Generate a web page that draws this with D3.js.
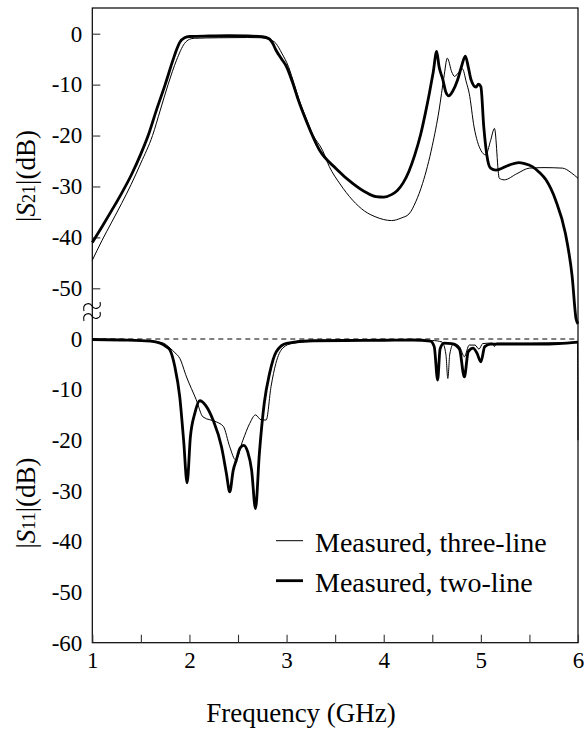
<!DOCTYPE html>
<html>
<head>
<meta charset="utf-8">
<script src="https://d3js.org/d3.v7.min.js"></script>
<style>
  body { margin: 0; background: #fff; }
  svg { display: block; }
  text { font-family: "Liberation Serif", "Times New Roman", serif; fill: #000; }
</style>
</head>
<body>
<div id="chartHere"></div>
<script>

// frequency ticks (GHz)
var freqTicks = [1, 1.5, 2, 2.5, 3, 3.5, 4, 4.5, 5, 5.5, 6];
var s21Ticks = [0, -10, -20, -30, -40, -50];
var s11Ticks = [0, -10, -20, -30, -40, -50, -60];

// |S21| measured, two-line  [GHz, dB]
var s21TwoLine = [
  [1.00,-41.0],[1.10,-37.9],[1.20,-34.7],[1.30,-31.4],[1.40,-27.8],[1.50,-23.6],
  [1.575,-20.0],[1.66,-15.0],[1.75,-10.0],[1.83,-5.2],[1.87,-3.0],
  [1.90,-1.7],[1.95,-0.8],[2.00,-0.55],[2.20,-0.45],[2.40,-0.4],[2.60,-0.45],
  [2.75,-0.6],[2.82,-1.0],[2.86,-2.0],[2.89,-3.2],[2.95,-5.0],[3.00,-6.5],
  [3.06,-9.5],[3.12,-13.0],[3.20,-17.0],[3.34,-22.9],[3.51,-26.5],[3.68,-29.4],
  [3.82,-31.2],[3.92,-32.0],[4.00,-32.1],[4.08,-31.6],[4.14,-30.8],[4.20,-29.3],
  [4.26,-27.0],[4.32,-23.8],[4.38,-19.8],[4.43,-15.5],[4.47,-11.7],[4.51,-7.5],
  [4.545,-3.5],[4.57,-6.5],[4.61,-9.1],[4.64,-11.5],[4.67,-12.2],[4.71,-11.3],
  [4.76,-9.1],[4.80,-6.5],[4.84,-4.4],[4.87,-6.5],[4.90,-9.1],[4.95,-10.5],
  [4.975,-9.9],[5.00,-10.4],[5.03,-18.3],[5.07,-24.8],[5.10,-26.4],[5.155,-26.8],
  [5.29,-25.8],[5.39,-25.3],[5.45,-25.5],[5.53,-26.1],[5.60,-27.2],[5.67,-28.7],
  [5.77,-32.7],[5.87,-39.2],[5.94,-47.7],[5.98,-56.0],[6.00,-57.0]
];

// |S21| measured, three-line
var s21ThreeLine = [
  [1.00,-44.5],[1.10,-40.6],[1.20,-37.0],[1.30,-33.4],[1.40,-29.6],[1.50,-25.4],
  [1.62,-20.0],[1.70,-15.0],[1.78,-10.0],[1.867,-5.2],[1.95,-1.9],[2.00,-1.1],
  [2.05,-0.9],[2.30,-0.8],[2.60,-0.75],[2.75,-0.8],[2.82,-1.1],[2.89,-1.9],
  [2.95,-3.8],[3.02,-6.5],[3.08,-10.0],[3.13,-13.0],[3.20,-16.5],[3.27,-19.8],
  [3.37,-22.9],[3.44,-26.1],[3.55,-29.5],[3.68,-32.7],[3.80,-34.8],[3.92,-36.0],
  [4.00,-36.5],[4.08,-36.7],[4.18,-36.2],[4.26,-35.4],[4.33,-33.0],[4.40,-29.4],
  [4.50,-22.0],[4.57,-15.0],[4.62,-8.5],[4.655,-4.8],[4.70,-7.5],[4.73,-8.4],
  [4.77,-7.6],[4.81,-6.9],[4.85,-9.5],[4.88,-11.7],[4.93,-18.3],[5.00,-22.9],
  [5.05,-23.8],[5.10,-21.0],[5.14,-18.6],[5.19,-28.4],[5.24,-28.7],[5.37,-27.5],
  [5.50,-26.4],[5.65,-26.3],[5.84,-26.4],[5.93,-27.3],[6.00,-28.4]
];

// |S11| measured, two-line
var s11TwoLine = [
  [1.00,-0.1],[1.30,-0.2],[1.60,-0.4],[1.70,-0.85],[1.76,-1.5],[1.80,-2.2],
  [1.85,-5.5],[1.90,-11.4],[1.94,-20.0],[1.976,-28.4],[2.01,-19.3],[2.055,-14.7],
  [2.106,-12.2],[2.17,-13.2],[2.243,-16.0],[2.33,-21.3],[2.38,-26.5],[2.415,-30.2],
  [2.45,-26.0],[2.483,-23.9],[2.52,-21.6],[2.56,-21.0],[2.60,-22.3],[2.64,-25.9],
  [2.68,-33.5],[2.72,-22.6],[2.77,-12.7],[2.825,-6.8],[2.894,-2.5],[3.00,-0.85],
  [3.27,-0.35],[3.60,-0.3],[4.00,-0.25],[4.30,-0.2],[4.48,-0.4],[4.52,-1.5],
  [4.555,-8.1],[4.58,-2.0],[4.62,-0.8],[4.70,-0.9],[4.78,-2.0],[4.83,-7.5],
  [4.87,-2.5],[4.92,-1.8],[4.96,-2.8],[5.00,-4.5],[5.04,-1.5],[5.10,-1.0],
  [5.30,-1.0],[5.60,-1.0],[5.80,-0.9],[6.00,-0.6]
];

// |S11| measured, three-line
var s11ThreeLine = [
  [1.00,-0.1],[1.60,-0.4],[1.73,-0.8],[1.80,-1.8],[1.85,-2.7],[1.90,-3.8],
  [1.97,-7.5],[2.07,-12.0],[2.14,-15.4],[2.28,-16.4],[2.35,-17.3],[2.415,-21.3],
  [2.476,-23.9],[2.55,-20.0],[2.62,-16.7],[2.68,-15.0],[2.74,-16.0],[2.79,-16.0],
  [2.84,-9.4],[2.89,-4.8],[2.96,-1.8],[3.06,-0.85],[3.30,-0.4],[4.00,-0.3],
  [4.50,-0.3],[4.60,-0.6],[4.64,-3.0],[4.66,-7.8],[4.68,-3.0],[4.72,-0.9],
  [4.78,-1.5],[4.83,-3.5],[4.88,-1.2],[4.94,-1.2],[4.98,-2.0],[5.02,-0.9],
  [5.12,-0.8],[5.14,-1.5],[5.16,-0.8],[5.50,-0.8],[5.90,-0.7],[5.995,-0.7],[6.00,-20.0]
];

var seriesNames = ["Measured, three-line", "Measured, two-line"];


function render()
{
  var dims = {"width": 586, "height": 736};
  var plot = {"left": 92.3, "right": 578, "top": 8, "bottom": 642.7};
  var serif = "'Liberation Serif', 'Times New Roman', serif";

  var svg = d3.select("div#chartHere")
    .append("svg")
      .attr("width", dims.width)
      .attr("height", dims.height);

  var x = d3.scaleLinear()
      .domain([1, 6])
      .range([plot.left, plot.right]);

  var yS21 = d3.scaleLinear()
      .domain([0, -50])
      .range([33.7, 288.3]);

  var yS11 = d3.scaleLinear()
      .domain([0, -60])
      .range([339, plot.bottom]);

  // plain hyphen for negatives, like the figure
  var fmt = function (d) { return String(d); };

  // frame
  svg.append("rect")
      .attr("x", plot.left)
      .attr("y", plot.top)
      .attr("width", plot.right - plot.left)
      .attr("height", plot.bottom - plot.top)
      .attr("fill", "none")
      .attr("stroke", "#000")
      .attr("stroke-width", 1.2);

  // S21 axis, ticks point inward
  var axS21 = svg.append("g")
      .attr("transform", "translate(" + plot.left + ",0)")
      .call(d3.axisLeft(yS21).tickValues(s21Ticks).tickSize(-8).tickPadding(10).tickFormat(fmt));

  // S11 axis, labels only
  var axS11 = svg.append("g")
      .attr("transform", "translate(" + plot.left + ",0)")
      .call(d3.axisLeft(yS11).tickValues(s11Ticks).tickSize(0).tickPadding(10).tickFormat(fmt));

  // frequency axis
  var axX = svg.append("g")
      .attr("transform", "translate(0," + plot.bottom + ")")
      .call(d3.axisBottom(x).tickValues(freqTicks).tickSize(-8).tickPadding(9)
        .tickFormat(function (d) { return Number.isInteger(d) ? String(d) : ""; }));

  [axS21, axS11, axX].forEach(function (g) {
    g.attr("font-family", serif);
    g.select(".domain").remove();
    g.selectAll("line").attr("stroke", "#333").attr("stroke-width", 1.1);
    g.selectAll("text")
      .attr("font-size", 23)
      .attr("fill", "#000");
  });

  // axis break
  [0, 10].forEach(function (off) {
    svg.append("path")
      .attr("d", "M84," + (311 + off) + " C82," + (303 + off) + " 90," + (302 + off) + " 92," + (306 + off) +
                 " C94," + (310 + off) + " 102," + (309 + off) + " 100," + (302 + off))
      .attr("fill", "none")
      .attr("stroke", "#000")
      .attr("stroke-width", 1.1);
  });

  // 0 dB reference for S11
  svg.append("line")
      .attr("x1", plot.left).attr("x2", plot.right)
      .attr("y1", yS11(0)).attr("y2", yS11(0))
      .attr("stroke", "#000")
      .attr("stroke-width", 1)
      .attr("stroke-dasharray", "5,4");

  var lineS21 = d3.line()
      .x(function (d) { return x(d[0]); })
      .y(function (d) { return yS21(d[1]); })
      .curve(d3.curveMonotoneX);

  var lineS11 = d3.line()
      .x(function (d) { return x(d[0]); })
      .y(function (d) { return yS11(d[1]); })
      .curve(d3.curveMonotoneX);

  svg.append("path").datum(s21ThreeLine)
      .attr("d", lineS21).attr("fill", "none").attr("stroke", "#000").attr("stroke-width", 1);
  svg.append("path").datum(s11ThreeLine)
      .attr("d", lineS11).attr("fill", "none").attr("stroke", "#000").attr("stroke-width", 1);
  svg.append("path").datum(s21TwoLine)
      .attr("d", lineS21).attr("fill", "none").attr("stroke", "#000").attr("stroke-width", 2.8)
      .attr("stroke-linejoin", "round");
  svg.append("path").datum(s11TwoLine)
      .attr("d", lineS11).attr("fill", "none").attr("stroke", "#000").attr("stroke-width", 2.8)
      .attr("stroke-linejoin", "round");

  // y labels
  var yLabels = [{"sub": "21", "cy": 176}, {"sub": "11", "cy": 503}];
  yLabels.forEach(function (l) {
    var t = svg.append("text")
        .attr("transform", "translate(35," + l.cy + ") rotate(-90)")
        .attr("text-anchor", "middle")
        .attr("font-size", 27);
    t.append("tspan").text("|");
    t.append("tspan").style("font-style", "italic").text("S");
    t.append("tspan").attr("font-size", 18).text(l.sub);
    t.append("tspan").text("|(dB)");
  });

  // x label
  svg.append("text")
      .attr("x", 301)
      .attr("y", 722)
      .attr("text-anchor", "middle")
      .attr("font-size", 27)
      .text("Frequency (GHz)");

  // legend
  var widths = [1, 2.8];
  seriesNames.forEach(function (name, i) {
    var by = 551.7 + i * 40;
    svg.append("line")
        .attr("x1", 276).attr("x2", 303)
        .attr("y1", by - 11).attr("y2", by - 11)
        .attr("stroke", "#000")
        .attr("stroke-width", widths[i]);
    svg.append("text")
        .attr("x", 315)
        .attr("y", by)
        .attr("font-size", 28)
        .text(name);
  });

}  // end of render()

render();

</script>
</body>
</html>
